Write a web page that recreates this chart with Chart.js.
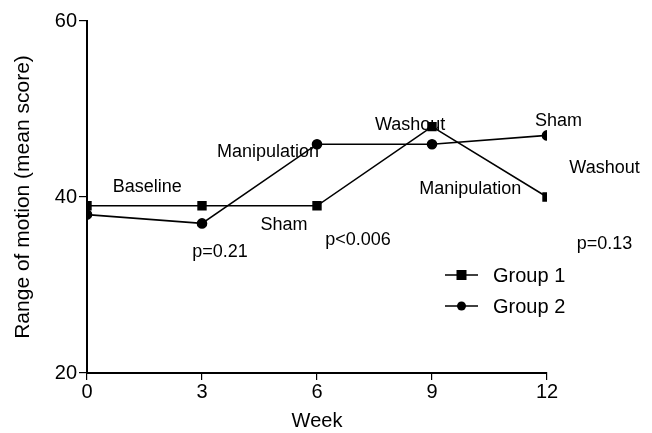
<!DOCTYPE html>
<html lang="en">
<head>
    <meta charset="UTF-8">
    <title>Range of motion by week</title>
    <script src="https://cdn.jsdelivr.net/npm/chart.js"></script>
    <style>
        html, body { margin: 0; padding: 0; background: #fff; }
        #wrap { width: 652px; height: 433px; }
    </style>
</head>
<body>
    <div id="wrap"><canvas id="romChart" width="652" height="433"></canvas></div>

    <script>
        // data
        const weeks = [0, 3, 6, 9, 12];
        const group1 = [39, 39, 39, 48, 40];
        const group2 = [38, 37, 46, 46, 47];
        const yTicks = [20, 40, 60];

        // phase labels and p values, placed in data units (week, score)
        const notes = [
            { text: 'Baseline', x: 1.57, y: 41.1 },
            { text: 'Manipulation', x: 4.72, y: 45.1 },
            { text: 'Washout', x: 8.43, y: 48.2 },
            { text: 'Sham', x: 12.3, y: 48.6 },
            { text: 'Washout', x: 13.5, y: 43.3 },
            { text: 'Manipulation', x: 10.0, y: 40.9 },
            { text: 'Sham', x: 5.14, y: 36.8 },
            { text: 'p=0.21', x: 3.47, y: 33.75 },
            { text: 'p<0.006', x: 7.07, y: 35.1 },
            { text: 'p=0.13', x: 13.5, y: 34.7 }
        ];

        const FONT = '"Liberation Sans", Arial, Helvetica, sans-serif';

        const notesPlugin = {
            id: 'notes',
            afterDatasetsDraw(chart) {
                const { ctx, scales: { x, y }, chartArea } = chart;
                ctx.save();
                ctx.fillStyle = '#000';
                ctx.font = '18px ' + FONT;
                ctx.textAlign = 'center';
                ctx.textBaseline = 'middle';
                notes.forEach(n => {
                    ctx.fillText(n.text, x.getPixelForValue(n.x), y.getPixelForValue(n.y));
                });

                // legend box inside the plot
                const items = [
                    { label: 'Group 1', style: 'rect', r: 5 },
                    { label: 'Group 2', style: 'circle', r: 4.5 }
                ];
                const lx = chartArea.left + 358;
                let ly = chartArea.top + 254;
                ctx.font = '20px ' + FONT;
                ctx.textAlign = 'left';
                items.forEach(it => {
                    ctx.strokeStyle = '#000';
                    ctx.lineWidth = 1.5;
                    ctx.beginPath();
                    ctx.moveTo(lx, ly);
                    ctx.lineTo(lx + 33, ly);
                    ctx.stroke();
                    ctx.beginPath();
                    if (it.style === 'rect') {
                        ctx.rect(lx + 16.5 - it.r, ly - it.r, it.r * 2, it.r * 2);
                    } else {
                        ctx.arc(lx + 16.5, ly, it.r, 0, Math.PI * 2);
                    }
                    ctx.fill();
                    ctx.fillText(it.label, lx + 48, ly + 1);
                    ly += 31;
                });
                ctx.restore();
            }
        };

        const ctx = document.getElementById('romChart').getContext('2d');
        new Chart(ctx, {
            type: 'line',
            data: {
                datasets: [
                    {
                        label: 'Group 1',
                        data: weeks.map((w, i) => ({ x: w, y: group1[i] })),
                        borderColor: '#000',
                        backgroundColor: '#000',
                        borderWidth: 1.6,
                        pointStyle: 'rect',
                        pointRadius: 5.5,
                        tension: 0
                    },
                    {
                        label: 'Group 2',
                        data: weeks.map((w, i) => ({ x: w, y: group2[i] })),
                        borderColor: '#000',
                        backgroundColor: '#000',
                        borderWidth: 1.6,
                        pointStyle: 'circle',
                        pointRadius: 4.5,
                        tension: 0
                    }
                ]
            },
            options: {
                responsive: false,
                animation: false,
                layout: { padding: { top: 21, right: 105, left: 11, bottom: 0 } },
                plugins: {
                    legend: { display: false },
                    tooltip: { enabled: false }
                },
                scales: {
                    x: {
                        type: 'linear',
                        min: 0,
                        max: 12,
                        afterBuildTicks: s => { s.ticks = weeks.map(v => ({ value: v })); },
                        afterFit: s => { s.height = 60; },
                        border: { display: true, color: '#000', width: 2 },
                        grid: { drawOnChartArea: false, color: '#000', tickLength: 7, lineWidth: 1.2 },
                        ticks: { color: '#000', font: { family: FONT, size: 20 }, padding: 0 },
                        title: { display: true, text: 'Week', color: '#000', font: { family: FONT, size: 20 }, padding: 0 }
                    },
                    y: {
                        min: 20,
                        max: 60,
                        afterBuildTicks: s => { s.ticks = yTicks.map(v => ({ value: v })); },
                        afterFit: s => { s.width = 76; },
                        border: { display: true, color: '#000', width: 2 },
                        grid: { drawOnChartArea: false, color: '#000', tickLength: 8, lineWidth: 1.2 },
                        ticks: { color: '#000', font: { family: FONT, size: 20 }, padding: 2 },
                        title: { display: true, text: 'Range of motion (mean score)', color: '#000', font: { family: FONT, size: 21 }, padding: 0 }
                    }
                }
            },
            plugins: [notesPlugin]
        });
    </script>
</body>
</html>
